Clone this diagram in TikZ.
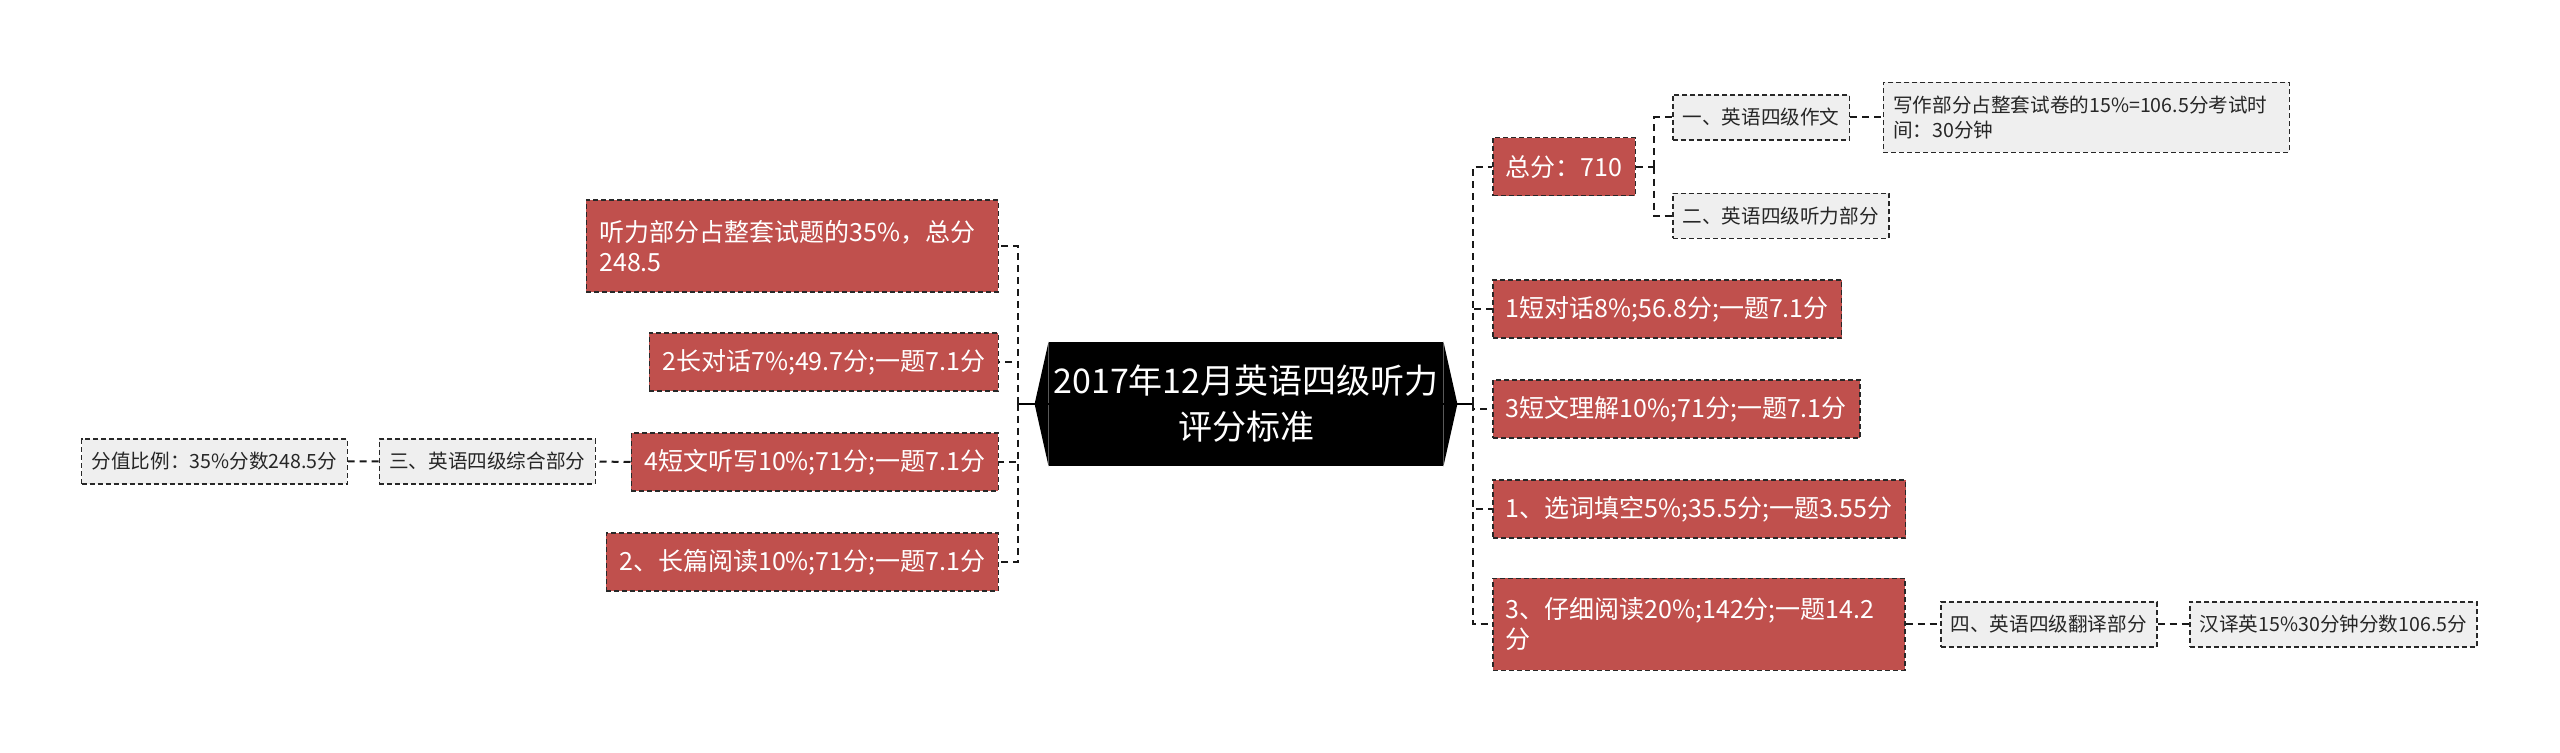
\documentclass[tikz,border=0pt]{standalone}
\usepackage{fontspec}
\setmainfont{Noto Sans CJK SC}
\usepackage{xcolor}
\usepackage{tikz}
\usetikzlibrary{calc}
\definecolor{hongse}{RGB}{192,80,77}
\definecolor{huise}{RGB}{239,239,239}
\definecolor{biankuang}{RGB}{40,40,40}

\begin{document}
\begin{tikzpicture}[x=0.5pt,y=-0.5pt,
	hong/.style={draw=biankuang,dash pattern=on 2.5pt off 1.5pt,line width=0.75pt,fill=hongse,text=white,
		font=\fontsize{12.5}{15}\selectfont,inner xsep=6.5pt,minimum height=29pt},
	hui/.style={draw=biankuang,dash pattern=on 2.5pt off 1.5pt,line width=0.75pt,fill=huise,text=black!85,
		font=\fontsize{9.8}{12.5}\selectfont,inner xsep=5pt,minimum height=22.5pt},
	lian/.style={draw=black!90,dash pattern=on 3.5pt off 2.5pt,line width=1pt},
	gen/.style={fill=black,text=white,font=\fontsize{17}{23}\selectfont,align=center,
		minimum width=197pt,minimum height=62pt,inner sep=0pt}]
	\fill[white](0,0)rectangle(2560,753);
	\node[gen](root)at(1246,404){2017年12月英语四级听力\\评分标准};
	\fill(root.north west)--([xshift=-7pt]root.west)--(root.south west)--cycle;
	\fill(root.north east)--([xshift=7pt]root.east)--(root.south east)--cycle;
	\node[hong,anchor=east,text width=193pt,minimum height=46pt,align=left](l1)at(999,246){听力部分占整套试题的35\%，总分\\248.5};
	\node[hong,anchor=east](l2)at(999,362){2长对话7\%;49.7分;一题7.1分};
	\node[hong,anchor=east](l3)at(999,462){4短文听写10\%;71分;一题7.1分};
	\node[hong,anchor=east](l4)at(999,562){2、长篇阅读10\%;71分;一题7.1分};
	\node[hui,anchor=east](g3)at(596,461.5){三、英语四级综合部分};
	\node[hui,anchor=east](g3a)at(348,461.5){分值比例：35\%分数248.5分};
	\node[hong,anchor=west](r1)at(1492,166.7){总分：710};
	\node[hong,anchor=west](r2)at(1492,309){1短对话8\%;56.8分;一题7.1分};
	\node[hong,anchor=west](r3)at(1492,409){3短文理解10\%;71分;一题7.1分};
	\node[hong,anchor=west](r4)at(1492,509){1、选词填空5\%;35.5分;一题3.55分};
	\node[hong,anchor=west,text width=193pt,minimum height=46pt,align=left](r5)at(1492,624.3){3、仔细阅读20\%;142分;一题14.2\\分};
	\node[hui,anchor=west](g1)at(1672,117.5){一、英语四级作文};
	\node[hui,anchor=west,text width=193pt,minimum height=35pt,align=left](g1a)at(1882.6,117.5){写作部分占整套试卷的15\%=106.5分考试时\\间：30分钟};
	\node[hui,anchor=west](g2)at(1672,216){二、英语四级听力部分};
	\node[hui,anchor=west](g4)at(1940,624.3){四、英语四级翻译部分};
	\node[hui,anchor=west](g4a)at(2189,624.3){汉译英15\%30分钟分数106.5分};
	\coordinate(zuo)at(1018,404);
	\coordinate(you)at(1473,404);
	\coordinate(zf)at(1654,166.7);
	\draw[line width=1pt](root.west)--(zuo)(root.east)--(you);
	\foreach \n in {l1,l2,l3,l4}\draw[lian](zuo)|-(\n.east);
	\foreach \n in {r1,r2,r3,r4,r5}\draw[lian](you)|-(\n.west);
	\draw[lian](r1.east)--(zf);
	\foreach \n in {g1,g2}\draw[lian](zf)|-(\n.west);
	\draw[lian](l3.west)--(g3.east) (g3.west)--(g3a.east);
	\draw[lian](g1.east)--(g1a.west);
	\draw[lian](r5.east)--(g4.west) (g4.east)--(g4a.west);
\end{tikzpicture}
\end{document}
